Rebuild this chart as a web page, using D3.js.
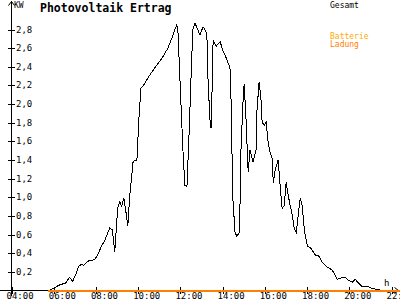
<!DOCTYPE html>
<html>
<head>
<meta charset="utf-8">
<script src="https://cdn.jsdelivr.net/npm/d3@7"></script>
<style>
  html, body { margin: 0; padding: 0; background: #fff; }
  svg { display: block; }
  text { font-family: "DejaVu Sans Mono", monospace; }
</style>
</head>
<body>
<div id="chart"></div>
<script>
// Data: hour of day and output in kW
const hours = [5.80, 6.04, 6.28, 6.56, 6.75, 6.90, 7.04, 7.18, 7.32, 7.42, 7.66, 7.94, 8.08, 8.23,
  8.42, 8.56, 8.65, 8.78, 8.89, 9.03, 9.13, 9.22, 9.32, 9.41, 9.51, 9.60, 9.70, 9.75, 9.84, 9.94,
  10.03, 10.13, 10.22, 10.46, 10.79, 11.12, 11.41, 11.60, 11.74, 11.83, 11.88, 12.02, 12.12, 12.21,
  12.31, 12.40, 12.50, 12.59, 12.69, 12.78, 12.93, 13.07, 13.21, 13.26, 13.31, 13.40, 13.45, 13.50,
  13.55, 13.69, 13.88, 14.02, 14.16, 14.30, 14.35, 14.40, 14.45, 14.49, 14.59, 14.68, 14.78, 14.83,
  14.87, 14.97, 15.02, 15.11, 15.21, 15.30, 15.44, 15.59, 15.63, 15.73, 15.82, 15.87, 15.97, 16.06,
  16.16, 16.25, 16.35, 16.40, 16.49, 16.63, 16.73, 16.82, 16.92, 17.01, 17.11, 17.20, 17.30, 17.39,
  17.49, 17.58, 17.68, 17.77, 17.87, 18.01, 18.20, 18.39, 18.53, 18.72, 18.96, 19.19, 19.34, 19.43,
  19.67, 19.81, 19.95, 20.14, 20.29, 20.43, 20.62, 20.90, 21.09, 21.38, 21.57];
const gesamt = [0.00, 0.03, 0.06, 0.08, 0.14, 0.10, 0.17, 0.26, 0.28, 0.27, 0.32, 0.33, 0.38, 0.46,
  0.54, 0.62, 0.67, 0.65, 0.41, 0.89, 0.95, 0.90, 0.99, 0.86, 0.69, 1.02, 1.24, 1.37, 1.40, 1.40,
  1.83, 2.17, 2.19, 2.28, 2.39, 2.49, 2.60, 2.71, 2.80, 2.85, 2.80, 2.04, 1.51, 1.13,
  1.11, 1.61, 2.26, 2.80, 2.87, 2.82, 2.74, 2.83, 2.78, 2.69, 2.26, 1.83, 1.74, 2.15,
  2.68, 2.62, 2.67, 2.57, 2.50, 2.42, 2.38, 2.04, 1.40, 0.97, 0.62, 0.58, 0.62, 0.97,
  1.51, 2.04, 2.22, 1.83, 1.27, 1.51, 1.38, 1.51, 1.94, 2.24, 2.04, 1.81, 1.77, 1.81,
  1.58, 1.48, 1.42, 1.15, 1.29, 1.40, 1.11, 0.88, 0.91, 1.16, 1.02, 0.91, 0.81, 0.67,
  0.62, 0.81, 0.99, 0.91, 0.65, 0.48, 0.45, 0.38, 0.38, 0.30, 0.25, 0.22, 0.16, 0.12,
  0.14, 0.14, 0.11, 0.09, 0.12, 0.08, 0.04, 0.04, 0.02, 0.01, 0.00];

// Batterie Ladung stays at zero from early morning to the end
const batterieHours = [5.75, 22.5];
const batterie = [0, 0];

const xTicks = [4, 6, 8, 10, 12, 14, 16, 18, 20, 22];
const xTickLabels = ["04:00", "06:00", "08:00", "10:00", "12:00", "14:00", "16:00", "18:00", "20:00", "22:00"];
const yTicks = [0.2, 0.4, 0.6, 0.8, 1.0, 1.2, 1.4, 1.6, 1.8, 2.0, 2.2, 2.4, 2.6, 2.8];
const yTickLabels = ["0,2", "0,4", "0,6", "0,8", "1,0", "1,2", "1,4", "1,6", "1,8", "2,0", "2,2", "2,4", "2,6", "2,8"];

const width = 400;
const height = 300;

const svg = d3.select("#chart")
  .append("svg")
    .attr("width", width)
    .attr("height", height);

// Scales: 04:00 sits on the y axis, 0 kW on the x axis
const x = d3.scaleLinear().domain([4, 22]).range([11.5, 391.5]);
const y = d3.scaleLinear().domain([0, 2.8]).range([290.5, 29.5]);

// Axes lines with arrows
const axisG = svg.append("g")
  .attr("stroke", "#000")
  .attr("stroke-width", 1)
  .attr("fill", "none")
  .attr("shape-rendering", "crispEdges");

axisG.append("line").attr("x1", 11.5).attr("x2", 11.5).attr("y1", 1).attr("y2", 296);
axisG.append("path").attr("d", "M8.5,5.5 L11.5,1.5 L14.5,5.5").attr("shape-rendering", "auto");
axisG.append("line").attr("x1", 0).attr("x2", 398).attr("y1", 290.5).attr("y2", 290.5);
axisG.append("path").attr("d", "M394.5,287.5 L398.5,290.5 L394.5,293.5").attr("shape-rendering", "auto");

// Y ticks crossing the axis
axisG.selectAll(".ytick")
  .data(yTicks)
  .enter().append("line")
    .attr("x1", 8).attr("x2", 15)
    .attr("y1", function (d) { return Math.round(y(d)) + 0.5; })
    .attr("y2", function (d) { return Math.round(y(d)) + 0.5; });

// X ticks crossing the axis
axisG.selectAll(".xtick")
  .data(xTicks)
  .enter().append("line")
    .attr("x1", function (d) { return Math.round(x(d)) + 0.5; })
    .attr("x2", function (d) { return Math.round(x(d)) + 0.5; })
    .attr("y1", 287).attr("y2", 294);

svg.selectAll(".ylabel")
  .data(yTicks)
  .enter().append("text")
    .attr("x", 16)
    .attr("y", function (d) { return y(d) + 3; })
    .attr("font-size", "9px")
    .attr("fill", "#000")
    .text(function (d, i) { return yTickLabels[i]; });

svg.selectAll(".xlabel")
  .data(xTicks)
  .enter().append("text")
    .attr("x", function (d) { return x(d) - 5; })
    .attr("y", 299)
    .attr("font-size", "9px")
    .attr("fill", "#000")
    .text(function (d, i) { return xTickLabels[i]; });

// Unit labels
svg.append("text").attr("x", 14).attr("y", 8).attr("font-size", "8px").text("KW");
svg.append("text").attr("x", 384).attr("y", 286).attr("font-size", "9px").text("h");

// Title and legend
svg.append("text")
  .attr("x", 40).attr("y", 12)
  .attr("font-size", "11.5px")
  .attr("font-weight", "bold")
  .text("Photovoltaik Ertrag");

svg.append("text").attr("x", 330).attr("y", 8).attr("font-size", "8px").attr("fill", "#000").text("Gesamt");
svg.append("text").attr("x", 330).attr("y", 39).attr("font-size", "8px").attr("fill", "#ffaa00").text("Batterie");
svg.append("text").attr("x", 330).attr("y", 47).attr("font-size", "8px").attr("fill", "#ff8000").text("Ladung");

// Series lines
const line = d3.line()
  .x(function (d) { return x(d[0]); })
  .y(function (d) { return y(d[1]); });

svg.append("path")
  .datum(hours.map(function (h, i) { return [h, gesamt[i]]; }))
  .attr("d", line)
  .attr("fill", "none")
  .attr("stroke", "#000")
  .attr("stroke-width", 1)
  .attr("shape-rendering", "crispEdges");

svg.append("path")
  .datum(batterieHours.map(function (h, i) { return [h, batterie[i]]; }))
  .attr("d", line)
  .attr("fill", "none")
  .attr("stroke", "#ff8000")
  .attr("stroke-width", 2)
  .attr("shape-rendering", "crispEdges");
</script>
</body>
</html>
